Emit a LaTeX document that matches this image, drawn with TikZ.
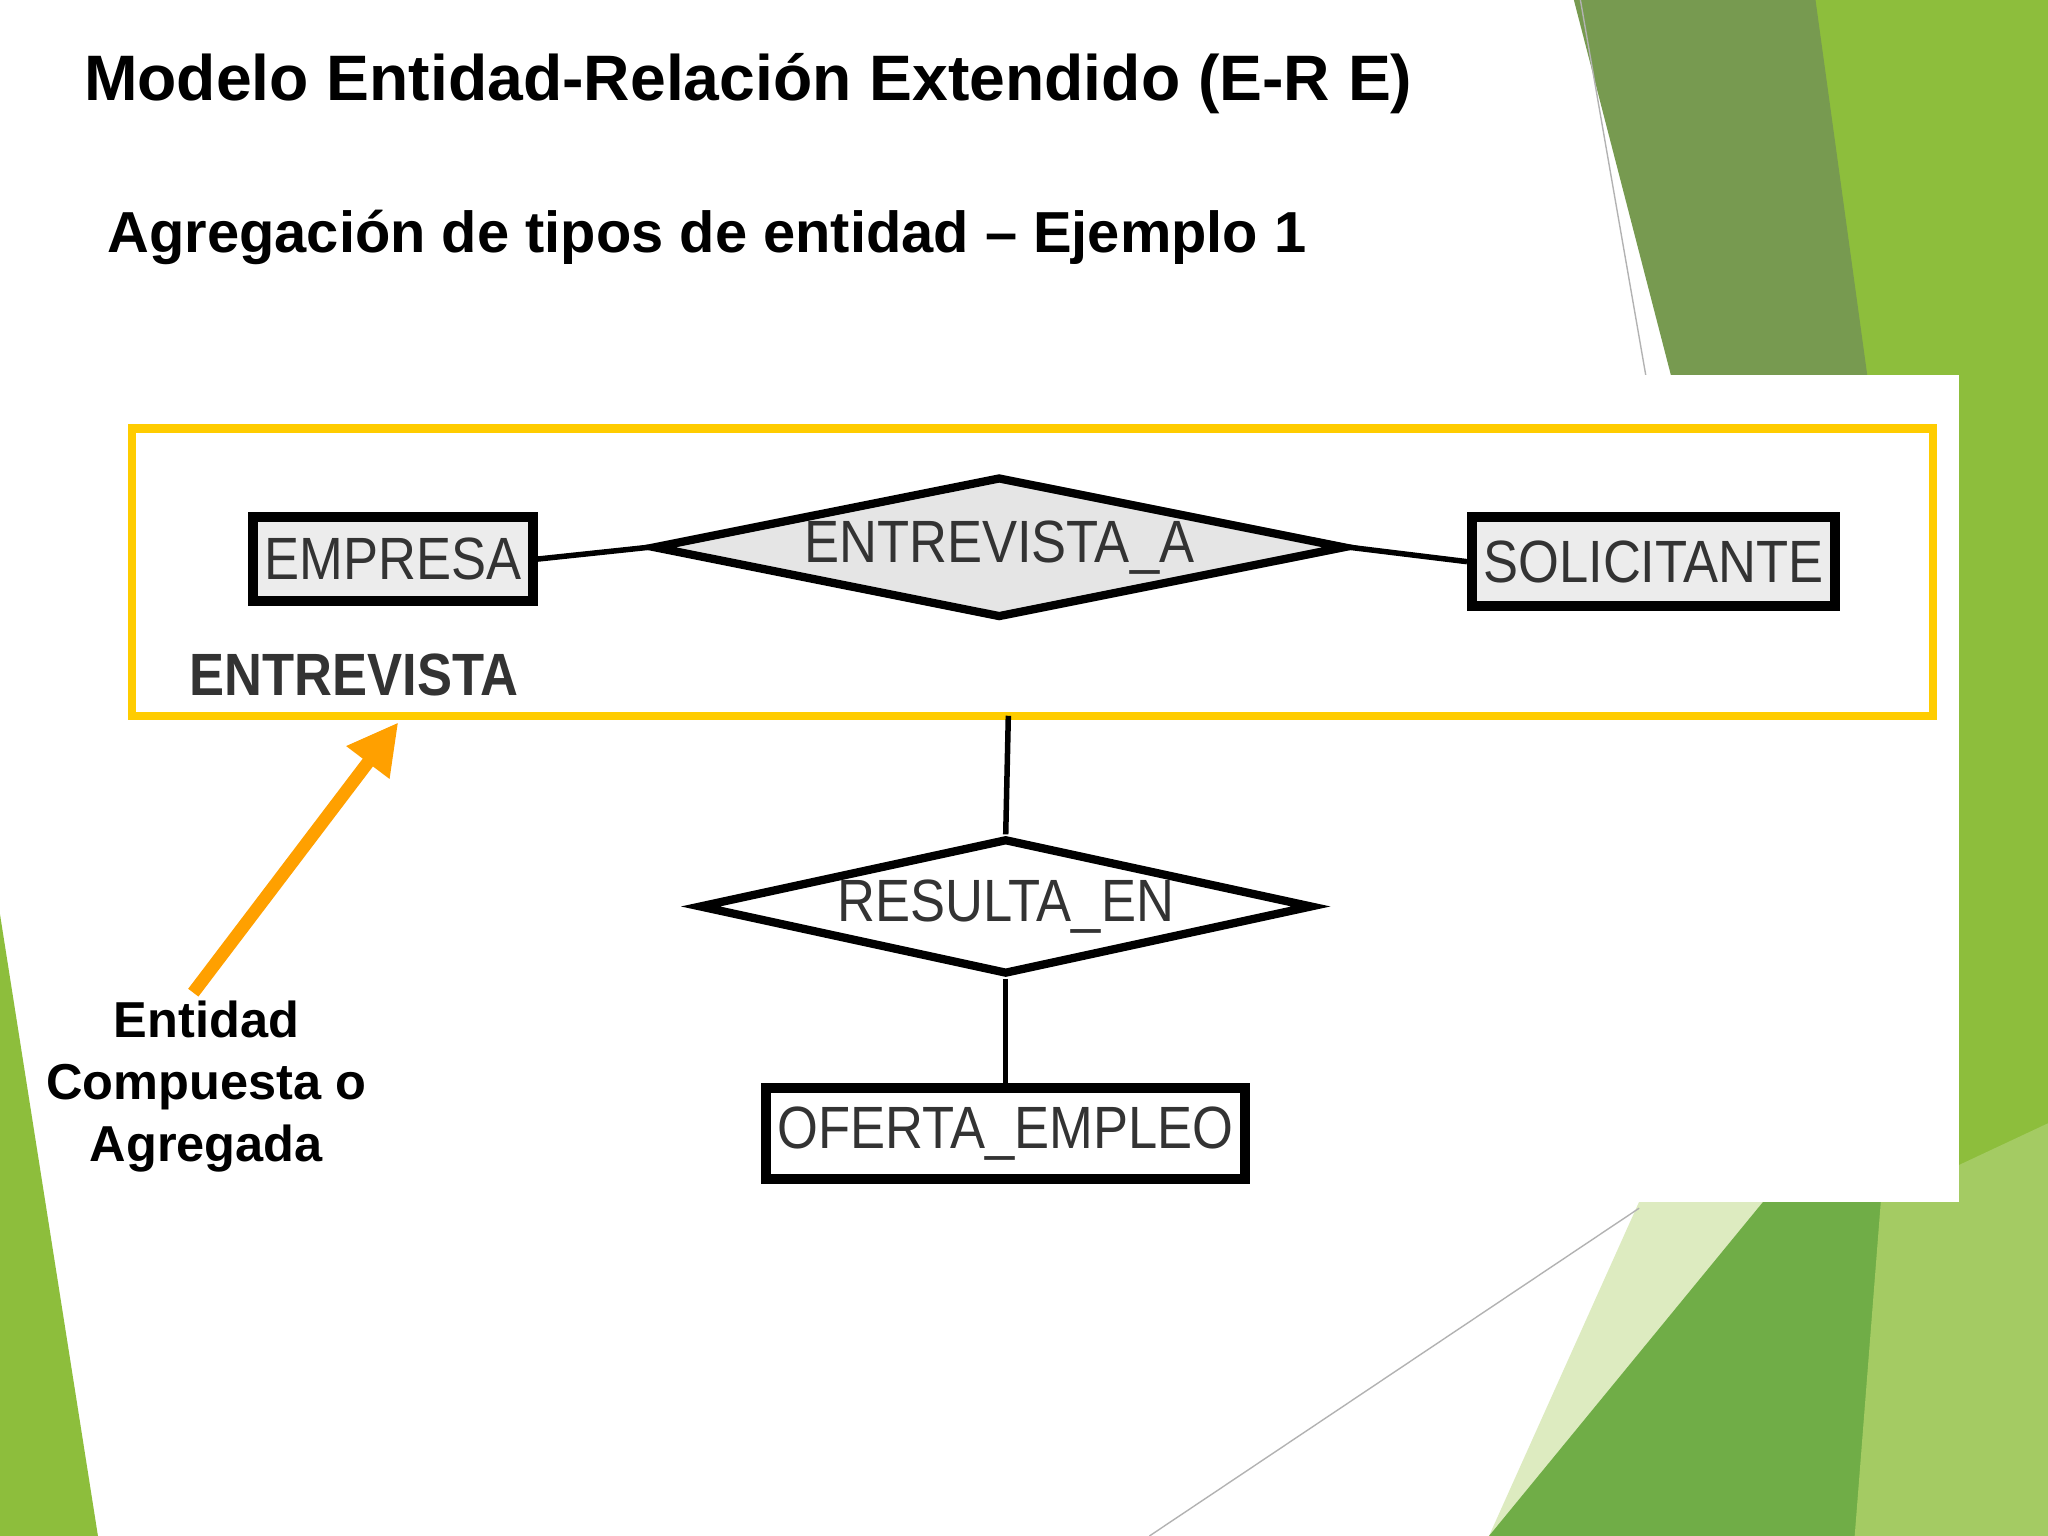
\documentclass[tikz,border=0pt]{standalone}
\usepackage{fontspec}
\setmainfont{Liberation Sans}
\usetikzlibrary{shapes.geometric,arrows.meta}
\definecolor{dg}{HTML}{779A50}
\definecolor{lg}{HTML}{8DBE3C}
\definecolor{pg}{HTML}{DDEBC0}
\definecolor{mg}{HTML}{70AD47}
\definecolor{yel}{HTML}{FFCC00}
\definecolor{org}{HTML}{FFA000}
\newlength{\pxu}\setlength{\pxu}{0.1mm}
\tikzset{
 ent/.style={draw=black,line width=2.2pt,fill=gray!15,minimum width=214\pxu,minimum height=64\pxu,inner sep=0pt},
 lbl/.style={font=\fontsize{13}{15}\selectfont,xscale=0.88,text=black!80},
 conn/.style={line width=1.2pt}
}
\begin{document}
\begin{tikzpicture}[x=0.1mm,y=-0.1mm]
\useasboundingbox (0,0) rectangle (1568,1176);
\fill[white] (0,0) rectangle (1568,1176);
% decorations
\fill[lg] (1380,0) -- (1568,0) -- (1568,1176) -- (1420,1176) -- cycle;
\fill[dg] (1205,0) -- (1390,0) -- (1430,290) -- (1280,290) -- cycle;
\fill[pg] (1255,920) -- (1450,920) -- (1400,1176) -- (1140,1176) -- cycle;
\fill[mg] (1350,920) -- (1500,920) -- (1500,1176) -- (1140,1176) -- cycle;
\fill[lg!80!white] (1440,920) -- (1568,860) -- (1568,1176) -- (1420,1176) -- cycle;
\fill[lg] (0,700) -- (75,1176) -- (0,1176) -- cycle;
\draw[gray!60,line width=0.3pt] (1210,0) -- (1260,287);
\draw[gray!60,line width=0.3pt] (880,1176) -- (1255,925);
\fill[white] (1255,287) rectangle (1500,920);
% titles
\node[anchor=west,font=\bfseries\fontsize{14}{17}\selectfont] (t1) at (52,64) {Modelo Entidad-Relación Extendido (E-R E)};
\node[anchor=west,font=\bfseries\fontsize{12.6}{15}\selectfont] (t2) at (70,182) {Agregación de tipos de entidad – Ejemplo 1};
% aggregation box
\draw[yel,line width=1.8pt] (101,328) rectangle (1480,548);
\node[ent] (emp) at (301,428) {};
\node[lbl] at (emp) {EMPRESA};
\node[ent,minimum width=278\pxu,minimum height=68\pxu] (sol) at (1266,430) {};
\node[lbl] at (sol) {SOLICITANTE};
\node[draw,diamond,aspect=4.9,line width=1.8pt,fill=gray!20,minimum width=530\pxu,minimum height=108\pxu,inner sep=0pt] (ea) at (765,419) {};
\node[lbl] at (ea) {ENTREVISTA\_A};
\draw[conn] (emp.east) -- (ea.west);
\draw[conn] (ea.east) -- (sol.west);
\node[lbl,font=\bfseries\fontsize{13}{15}\selectfont] (entv) at (271,517) {ENTREVISTA};
\coordinate (agg) at (772,548);
\node[draw,diamond,aspect=4.6,line width=1.8pt,fill=white,minimum width=470\pxu,minimum height=104\pxu,inner sep=0pt] (re) at (770,694) {};
\node[lbl] at (re) {RESULTA\_EN};
\node[draw,line width=2.2pt,minimum width=367\pxu,minimum height=70\pxu,inner sep=0pt] (of) at (770,868) {};
\node[lbl] at (of) {OFERTA\_EMPLEO};
\draw[conn] (agg) -- (re.north);
\draw[conn] (re.south) -- (of.north);
% arrow
\node[align=center,font=\bfseries\fontsize{11}{13.5}\selectfont] (txt) at (158,832) {Entidad\\Compuesta o\\Agregada};
\coordinate (tip) at (305,553);
\coordinate (tail) at (148,760);
\draw[org,line width=2.8pt,-{Triangle[length=11pt,width=11pt]}] (tail) -- (tip);
\end{tikzpicture}
\end{document}
